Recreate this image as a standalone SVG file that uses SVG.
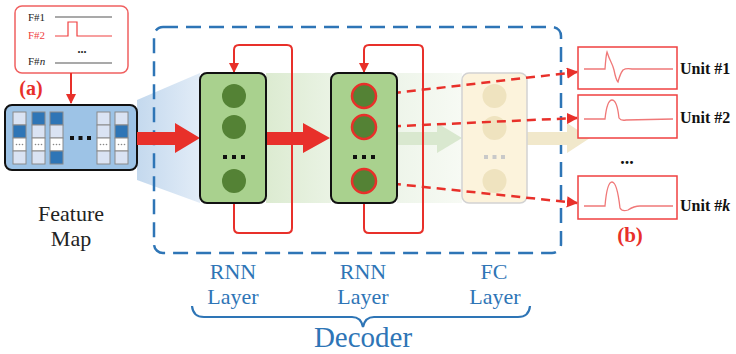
<svg xmlns="http://www.w3.org/2000/svg" width="736" height="354" viewBox="0 0 736 354">
<style>
.cell{fill:#dae3f3;stroke:#8a8a8a;stroke-width:1}
.dk{fill:#2e75b6;stroke:#8a8a8a;stroke-width:1}
.wh{fill:#ffffff;stroke:#8a8a8a;stroke-width:1}
.node{fill:#548235}
.wave{fill:none;stroke:#f07878;stroke-width:1.3}
.ubox{fill:#ffffff;stroke:#f04040;stroke-width:1.5}
.red{stroke:#e8302a;fill:none}
</style>
<defs>
<linearGradient id="gBlue" x1="0" y1="0" x2="1" y2="0">
<stop offset="0" stop-color="#c4d9ee"/><stop offset="1" stop-color="#e2ecf7"/>
</linearGradient>
<linearGradient id="gGreen" x1="0" y1="0" x2="1" y2="0">
<stop offset="0" stop-color="#dcebd1"/><stop offset="1" stop-color="#eaf3e4"/>
</linearGradient>
<linearGradient id="gGreen2" x1="0" y1="0" x2="1" y2="0">
<stop offset="0" stop-color="#eef5ea"/><stop offset="1" stop-color="#f7faf4"/>
</linearGradient>
<marker id="ah" viewBox="0 0 10 10" refX="9" refY="5" markerWidth="4.5" markerHeight="4.5" orient="auto" markerUnits="strokeWidth">
<path d="M0,0 L10,5 L0,10 z" fill="#e8302a"/>
</marker>
<marker id="ah2" viewBox="0 0 10 10" refX="9" refY="5" markerWidth="5" markerHeight="5" orient="auto" markerUnits="strokeWidth">
<path d="M0,0 L10,5 L0,10 z" fill="#e8302a"/>
</marker>
</defs>
<rect width="736" height="354" fill="#ffffff"/>

<g id="bands">
<path d="M137,100 L200,73 L200,203 L137,180 Z" fill="url(#gBlue)"/>
<rect x="266" y="73" width="65" height="130" fill="url(#gGreen)"/>
<rect x="397" y="73" width="65" height="130" fill="url(#gGreen2)"/>
</g>

<rect id="decoder-frame" x="154" y="27" width="407" height="226" rx="9" fill="none" stroke="#2e75b6" stroke-width="2.5" stroke-dasharray="15 8"/>

<g font-family="'Liberation Serif', 'Times New Roman', serif">
<g id="signals">
<rect x="15" y="6" width="113" height="67" rx="7" fill="#ffffff" stroke="#f06060" stroke-width="1.5"/>
<text x="28" y="21" font-size="11" fill="#222">F#1</text>
<line x1="55" y1="17" x2="112" y2="17" stroke="#555" stroke-width="1.2"/>
<text x="28" y="39" font-size="11" fill="#f04040">F#2</text>
<path d="M55,36 L68,36 L68,22 L77,22 L77,36 L112,36" fill="none" stroke="#f04040" stroke-width="1.2"/>
<text x="82" y="53" font-size="12" fill="#222" text-anchor="middle" font-weight="bold">...</text>
<text x="28" y="65" font-size="11" fill="#222">F#<tspan font-style="italic">n</tspan></text>
<line x1="55" y1="63" x2="112" y2="63" stroke="#555" stroke-width="1.2"/>
</g>
<text x="31" y="95" font-size="20" font-weight="bold" fill="#e8302a" text-anchor="middle">(a)</text>

<g id="feature-map">
<rect x="5" y="105" width="132" height="65" rx="7" fill="#9dc3e6" stroke="#111" stroke-width="2"/>
<g>
<rect x="13" y="112" width="13" height="13" class="cell"/><rect x="13" y="125" width="13" height="13" class="dk"/><rect x="13" y="138" width="13" height="13" class="wh"/><rect x="13" y="151" width="13" height="13" class="cell"/>
<rect x="32" y="112" width="13" height="13" class="dk"/><rect x="32" y="125" width="13" height="13" class="cell"/><rect x="32" y="138" width="13" height="13" class="wh"/><rect x="32" y="151" width="13" height="13" class="cell"/>
<rect x="50" y="112" width="13" height="13" class="dk"/><rect x="50" y="125" width="13" height="13" class="cell"/><rect x="50" y="138" width="13" height="13" class="wh"/><rect x="50" y="151" width="13" height="13" class="dk"/>
<rect x="97" y="112" width="13" height="13" class="cell"/><rect x="97" y="125" width="13" height="13" class="cell"/><rect x="97" y="138" width="13" height="13" class="wh"/><rect x="97" y="151" width="13" height="13" class="cell"/>
<rect x="115" y="112" width="13" height="13" class="cell"/><rect x="115" y="125" width="13" height="13" class="dk"/><rect x="115" y="138" width="13" height="13" class="wh"/><rect x="115" y="151" width="13" height="13" class="cell"/>
</g>
<g fill="#888">
<circle cx="16.5" cy="144.5" r="0.8"/><circle cx="19.5" cy="144.5" r="0.8"/><circle cx="22.5" cy="144.5" r="0.8"/>
<circle cx="35.5" cy="144.5" r="0.8"/><circle cx="38.5" cy="144.5" r="0.8"/><circle cx="41.5" cy="144.5" r="0.8"/>
<circle cx="53.5" cy="144.5" r="0.8"/><circle cx="56.5" cy="144.5" r="0.8"/><circle cx="59.5" cy="144.5" r="0.8"/>
<circle cx="100.5" cy="144.5" r="0.8"/><circle cx="103.5" cy="144.5" r="0.8"/><circle cx="106.5" cy="144.5" r="0.8"/>
<circle cx="118.5" cy="144.5" r="0.8"/><circle cx="121.5" cy="144.5" r="0.8"/><circle cx="124.5" cy="144.5" r="0.8"/>
</g>
<g fill="#111"><rect x="70" y="136" width="4" height="4"/><rect x="78.5" y="136" width="4" height="4"/><rect x="87" y="136" width="4" height="4"/></g>
</g>
<text x="71" y="221" font-size="22" fill="#222" text-anchor="middle">Feature</text>
<text x="71" y="246" font-size="22" fill="#222" text-anchor="middle">Map</text>

<path d="M397,132 L437,132 L437,123 L462,138 L437,153 L437,145 L397,145 Z" fill="#d9e8cf"/>
<path d="M527,132 L567,132 L567,123 L590,138 L567,153 L567,145 L527,145 Z" fill="#f1e8cb"/>

<g id="fc-layer">
<rect x="462" y="73" width="65" height="130" rx="7" fill="#fcf3dc" stroke="#d2d2d2" stroke-width="1.5"/>
<circle cx="494.5" cy="96" r="12" fill="#efe3bf"/>
<circle cx="494.5" cy="128" r="12" fill="#efe3bf"/>
<circle cx="494.5" cy="181" r="12" fill="#efe3bf"/>
<g fill="#c9c9c9"><rect x="484" y="155" width="4" height="4"/><rect x="492.5" y="155" width="4" height="4"/><rect x="501" y="155" width="4" height="4"/></g>
</g>

<g id="connectors">
<path d="M137,132 L175,132 L175,123 L200,138 L175,153 L175,145 L137,145 Z" fill="#e8302a"/>
<path d="M266,132 L303,132 L303,123 L330,138 L303,153 L303,145 L266,145 Z" fill="#e8302a"/>
<line x1="71" y1="73" x2="71" y2="103" stroke="#e8302a" stroke-width="2" marker-end="url(#ah2)"/>
<path d="M234,203 L234,228 Q234,233 239,233 L287,233 Q292,233 292,228 L292,50 Q292,45 287,45 L239,45 Q234,45 234,50 L234,72" class="red" stroke-width="2" marker-end="url(#ah2)"/>
<path d="M364,203 L364,228 Q364,233 369,233 L418,233 Q423,233 423,228 L423,50 Q423,45 418,45 L369,45 Q364,45 364,50 L364,72" class="red" stroke-width="2" marker-end="url(#ah2)"/>
<line x1="377" y1="95" x2="577" y2="72" class="red" stroke-width="2.5" stroke-dasharray="9 6" marker-end="url(#ah)"/>
<line x1="377" y1="127" x2="577" y2="118" class="red" stroke-width="2.5" stroke-dasharray="9 6" marker-end="url(#ah)"/>
<line x1="377" y1="182" x2="577" y2="203" class="red" stroke-width="2.5" stroke-dasharray="9 6" marker-end="url(#ah)"/>
</g>

<g id="rnn1">
<rect x="200" y="73" width="66" height="130" rx="7" fill="#a9d18e" stroke="#111" stroke-width="2"/>
<circle cx="234" cy="96" r="12" class="node"/>
<circle cx="234" cy="127" r="12" class="node"/>
<circle cx="234" cy="181" r="12" class="node"/>
<g fill="#111"><rect x="223" y="155" width="4" height="4"/><rect x="232" y="155" width="4" height="4"/><rect x="241" y="155" width="4" height="4"/></g>
</g>

<g id="rnn2">
<rect x="331" y="73" width="66" height="130" rx="7" fill="#a9d18e" stroke="#111" stroke-width="2"/>
<circle cx="364" cy="96" r="12" class="node" stroke="#e8302a" stroke-width="2.5"/>
<circle cx="364" cy="127" r="12" class="node" stroke="#e8302a" stroke-width="2.5"/>
<circle cx="364" cy="181" r="12" class="node" stroke="#e8302a" stroke-width="2.5"/>
<g fill="#111"><rect x="353" y="155" width="4" height="4"/><rect x="362" y="155" width="4" height="4"/><rect x="371" y="155" width="4" height="4"/></g>
</g>

<g id="unit1">
<rect x="578" y="47" width="99" height="42" class="ubox"/>
<path d="M584,69 L605,69 Q606,55 607,52 Q609,58 611,62 Q613,66 614,70 Q616,80 618,82 Q620,74 623,70 Q626,68 632,69 L673,69" class="wave"/>
<text x="680" y="74" font-size="16" font-weight="bold" fill="#111">Unit #1</text>
</g>
<g id="unit2">
<rect x="578" y="95" width="99" height="43" class="ubox"/>
<path d="M584,119 L605,119 Q607,100 612,100 Q617,100 619,118 Q621,121 626,120 L673,119" class="wave"/>
<text x="680" y="123" font-size="16" font-weight="bold" fill="#111">Unit #2</text>
</g>
<text x="627" y="164" font-size="18" font-weight="bold" fill="#111" text-anchor="middle">...</text>
<g id="unit3">
<rect x="578" y="176" width="99" height="43" class="ubox"/>
<path d="M584,206 L605,206 Q607,182 612,182 Q617,182 620,208 Q622,212 628,210 Q634,206 640,206 L673,206" class="wave"/>
<text x="680" y="211" font-size="16" font-weight="bold" fill="#111">Unit #<tspan font-style="italic">k</tspan></text>
</g>
<text x="630" y="242" font-size="21" font-weight="bold" fill="#e8302a" text-anchor="middle">(b)</text>

<g id="labels" fill="#2e75b6" text-anchor="middle" font-size="22">
<text x="233" y="279">RNN</text>
<text x="233" y="304">Layer</text>
<text x="363" y="279">RNN</text>
<text x="363" y="304">Layer</text>
<text x="494" y="279">FC</text>
<text x="495" y="304">Layer</text>
<path d="M192,306 Q193,317 204,317 L352,317 Q361,317 363,327 Q365,317 374,317 L518,317 Q529,317 530,306" fill="none" stroke="#2e75b6" stroke-width="2.2"/>
<text x="363" y="347" font-size="29">Decoder</text>
</g>
</g>
</svg>
